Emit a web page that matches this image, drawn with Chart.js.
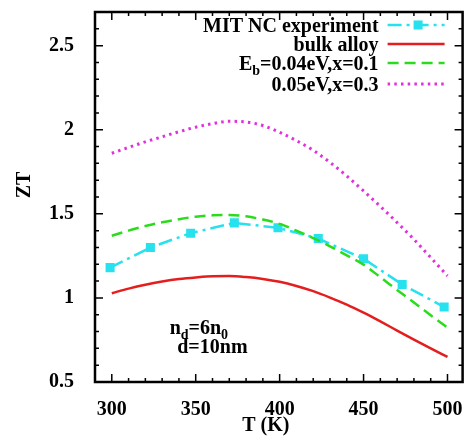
<!DOCTYPE html>
<html>
<head>
<meta charset="utf-8">
<script src="https://cdn.jsdelivr.net/npm/chart.js@4.4.1/dist/chart.umd.min.js"></script>
<style>
  html, body { margin: 0; padding: 0; background: #fff; }
  #wrap { width: 469px; height: 440px; }
</style>
</head>
<body>
<div id="wrap"><canvas id="chartZT" width="469" height="440"></canvas></div>
<script>
// temperatures for the computed curves (K)
let tGrid = [300, 310, 320, 330, 340, 350, 360, 370, 380, 390, 400, 410, 420, 430, 440, 450, 460, 470, 480, 490, 500];
let bulkZT = [1.028, 1.055, 1.078, 1.097, 1.112, 1.122, 1.129, 1.130, 1.124, 1.113, 1.096, 1.071, 1.040, 1.002, 0.960, 0.912, 0.860, 0.806, 0.752, 0.700, 0.649];
let eb004ZT = [1.370, 1.400, 1.428, 1.450, 1.468, 1.483, 1.491, 1.493, 1.485, 1.466, 1.440, 1.400, 1.356, 1.307, 1.253, 1.198, 1.123, 1.047, 0.973, 0.897, 0.823];
let eb005ZT = [1.860, 1.895, 1.928, 1.958, 1.988, 2.015, 2.036, 2.050, 2.046, 2.025, 1.985, 1.935, 1.878, 1.806, 1.725, 1.636, 1.544, 1.448, 1.348, 1.240, 1.131];

// measured points
let expT = [299, 323, 347, 373, 399, 423, 450, 473, 498];
let expZT = [1.18, 1.30, 1.385, 1.446, 1.417, 1.353, 1.233, 1.08, 0.946];

let seriesNames = ['MIT NC experiment', 'bulk alloy', 'E_b=0.04eV,x=0.1', '0.05eV,x=0.3'];
let xTickLabels = [300, 350, 400, 450, 500];
let yTickLabels = [0.5, 1, 1.5, 2, 2.5];

var FONT = '"Liberation Serif", "Times New Roman", serif';

function pts(xs, ys){
    return xs.map(function(x, i){ return {x: x, y: ys[i]}; });
}

// draws a row of text runs, some of them as subscripts
function textRuns(ctx, runs, x, y, alignRight){
    var widths = runs.map(function(r){
        ctx.font = (r.sub ? 'bold 14px ' : 'bold 20px ') + FONT;
        return ctx.measureText(r.t).width;
    });
    var total = widths.reduce(function(a, b){ return a + b; }, 0);
    var cx = alignRight ? x - total : x;
    ctx.textAlign = 'left';
    ctx.textBaseline = 'alphabetic';
    runs.forEach(function(r, i){
        ctx.font = (r.sub ? 'bold 14px ' : 'bold 20px ') + FONT;
        ctx.fillText(r.t, cx, r.sub ? y + 5 : y);
        cx += widths[i];
    });
}

function splitSub(str){
    // "E_b=..." -> E, b (sub), =...
    var m = str.match(/^(.*?)_(.)(.*)$/);
    if (!m) return [{t: str}];
    return [{t: m[1]}, {t: m[2], sub: true}, {t: m[3]}];
}

// one tick every `step` inside the axis range
function evenTicks(axis, step){
    var list = [];
    var first = Math.ceil(axis.min / step - 1e-9);
    var last = Math.floor(axis.max / step + 1e-9);
    for (var k = first; k <= last; k++){
        list.push({value: Math.round(k * step * 1000) / 1000});
    }
    axis.ticks = list;
}

var framePlugin = {
    id: 'frame',
    afterDraw: function(chart){
        var ctx = chart.ctx;
        var a = chart.chartArea;
        var xs = chart.scales.x, ys = chart.scales.y;
        ctx.save();
        ctx.strokeStyle = '#000';
        ctx.fillStyle = '#000';

        // inward ticks on all four sides
        ctx.lineWidth = 1.5;
        ctx.beginPath();
        xs.ticks.forEach(function(t){
            var px = xs.getPixelForValue(t.value);
            if (px <= a.left + 1 || px >= a.right - 1) return;
            var len = t.label !== '' ? 8 : 4;
            ctx.moveTo(px, a.bottom); ctx.lineTo(px, a.bottom - len);
            ctx.moveTo(px, a.top); ctx.lineTo(px, a.top + len);
        });
        ys.ticks.forEach(function(t){
            var py = ys.getPixelForValue(t.value);
            if (py <= a.top + 1 || py >= a.bottom - 1) return;
            var len = t.label !== '' ? 8 : 4;
            ctx.moveTo(a.left, py); ctx.lineTo(a.left + len, py);
            ctx.moveTo(a.right, py); ctx.lineTo(a.right - len, py);
        });
        ctx.stroke();

        // border
        ctx.lineWidth = 2.5;
        ctx.strokeRect(a.left, a.top, a.right - a.left, a.bottom - a.top);

        // key, top right inside the frame
        var ds = chart.data.datasets;
        var rowY = [a.top + 13, a.top + 32, a.top + 51, a.top + 72];
        var textRight = a.right - 84;
        var x0 = a.right - 75, x1 = a.right - 18;
        ds.forEach(function(d, i){
            var y = rowY[i];
            ctx.fillStyle = '#000';
            textRuns(ctx, splitSub(seriesNames[i]), textRight, y + 7, true);
            ctx.save();
            ctx.strokeStyle = d.borderColor;
            ctx.lineWidth = d.borderWidth;
            ctx.setLineDash(d.borderDash || []);
            ctx.beginPath();
            ctx.moveTo(x0, y); ctx.lineTo(x1, y);
            ctx.stroke();
            if (d.pointRadius > 0){
                var s = d.pointRadius * Math.SQRT1_2;
                var mx = (x0 + x1) / 2 + 2;
                ctx.fillStyle = d.pointBackgroundColor;
                ctx.fillRect(mx - s, y - s, 2 * s, 2 * s);
            }
            ctx.restore();
        });

        // parameter note, placed in data coordinates
        ctx.fillStyle = '#000';
        var nx = xs.getPixelForValue(334.5), ny = ys.getPixelForValue(0.787);
        textRuns(ctx, [{t: 'n'}, {t: 'd', sub: true}, {t: '=6n'}, {t: '0', sub: true}], nx, ny, false);
        var dx = xs.getPixelForValue(339), dy = ys.getPixelForValue(0.675);
        textRuns(ctx, [{t: 'd=10nm'}], dx, dy, false);

        // axis titles
        ctx.font = 'bold 20px ' + FONT;
        ctx.textAlign = 'center';
        ctx.textBaseline = 'middle';
        ctx.fillText('T (K)', (a.left + a.right) / 2 - 13, 426);
        ctx.translate(25, (a.top + a.bottom) / 2 - 12);
        ctx.rotate(-Math.PI / 2);
        ctx.fillText('ZT', 0, 0);
        ctx.restore();
    }
};

new Chart(document.getElementById('chartZT'), {
    type: 'line',
    data: {
        datasets: [
            {
                label: seriesNames[0],
                data: pts(expT, expZT),
                borderColor: '#27e1ef',
                backgroundColor: '#27e1ef',
                pointBackgroundColor: '#27e1ef',
                pointBorderWidth: 0,
                pointStyle: 'rect',
                pointRadius: 6.4,
                borderWidth: 2.5,
                borderDash: [14, 5, 3, 5],
                tension: 0,
                order: 4
            },
            {
                label: seriesNames[1],
                data: pts(tGrid, bulkZT),
                borderColor: '#e41e1e',
                borderWidth: 2.5,
                pointRadius: 0,
                cubicInterpolationMode: 'monotone',
                order: 3
            },
            {
                label: seriesNames[2],
                data: pts(tGrid, eb004ZT),
                borderColor: '#2bdc1c',
                borderWidth: 2.5,
                borderDash: [11, 6],
                pointRadius: 0,
                cubicInterpolationMode: 'monotone',
                order: 2
            },
            {
                label: seriesNames[3],
                data: pts(tGrid, eb005ZT),
                borderColor: '#e030e0',
                borderWidth: 3,
                borderDash: [2.5, 4.2],
                pointRadius: 0,
                cubicInterpolationMode: 'monotone',
                order: 1
            }
        ]
    },
    options: {
        responsive: false,
        animation: false,
        devicePixelRatio: 1,
        layout: { padding: { left: 0, right: 6, top: 12, bottom: 0 } },
        plugins: {
            legend: { display: false },
            tooltip: { enabled: false }
        },
        scales: {
            x: {
                type: 'linear',
                min: 290,
                max: 509,
                grid: { display: false },
                border: { display: false },
                afterBuildTicks: function(axis){ evenTicks(axis, 10); },
                afterFit: function(axis){
                    axis.height = 58;
                    axis.paddingLeft = 0;
                    axis.paddingRight = 0;
                },
                ticks: {
                    autoSkip: false,
                    maxRotation: 0,
                    padding: 8,
                    color: '#000',
                    font: { family: FONT, size: 20, weight: 'bold' },
                    callback: function(v){ return xTickLabels.indexOf(v) >= 0 ? String(v) : ''; }
                }
            },
            y: {
                type: 'linear',
                min: 0.5,
                max: 2.7,
                grid: { display: false },
                border: { display: false },
                afterBuildTicks: function(axis){ evenTicks(axis, 0.1); },
                afterFit: function(axis){
                    axis.width = 95;
                    axis.paddingTop = 0;
                    axis.paddingBottom = 0;
                },
                ticks: {
                    autoSkip: false,
                    padding: 13,
                    color: '#000',
                    font: { family: FONT, size: 20, weight: 'bold' },
                    callback: function(v){
                        var r = Math.round(v * 10) / 10;
                        return yTickLabels.indexOf(r) >= 0 ? String(r) : '';
                    }
                }
            }
        }
    },
    plugins: [framePlugin]
});
</script>
</body>
</html>
